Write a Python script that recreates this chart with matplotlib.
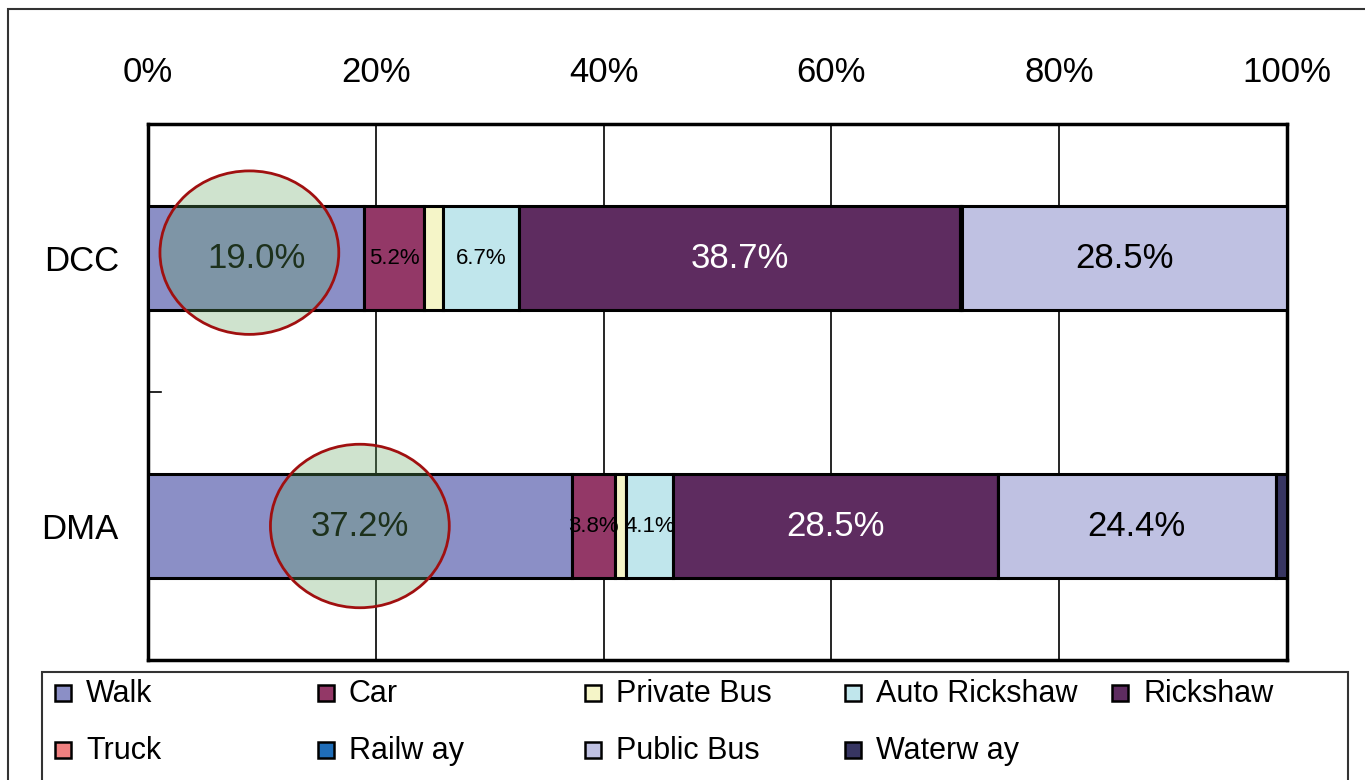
import matplotlib
matplotlib.use("Agg")
import matplotlib.pyplot as plt
from matplotlib.patches import Ellipse, Rectangle
import numpy as np

plt.rcParams['font.family'] = ['Liberation Sans', 'DejaVu Sans']

categories = ["DCC", "DMA"]
modes = ["Walk", "Car", "Private Bus", "Auto Rickshaw", "Rickshaw",
         "Truck", "Railway", "Public Bus", "Waterway"]
legend_labels = ["Walk", "Car", "Private Bus", "Auto Rickshaw", "Rickshaw",
                 "Truck", "Railw ay", "Public Bus", "Waterw ay"]
walk = [19.0, 37.2]
car = [5.2, 3.8]
private_bus = [1.7, 1.0]
auto_rickshaw = [6.7, 4.1]
rickshaw = [38.7, 28.5]
truck = [0.1, 0.0]
railway = [0.1, 0.0]
public_bus = [28.5, 24.4]
waterway = [0.0, 1.0]
series = [walk, car, private_bus, auto_rickshaw, rickshaw, truck, railway, public_bus, waterway]
labelled = [True, True, False, True, True, False, False, True, False]
xticks = [0, 20, 40, 60, 80, 100]
xtick_labels = ["0%", "20%", "40%", "60%", "80%", "100%"]

colors = ["#8B8FC6", "#933867", "#F5F5C8", "#C0E6EC", "#5E2C60",
          "#F08080", "#1F6DB8", "#BFC1E2", "#373562"]
text_colors = ["#000000", "#000000", "#000000", "#000000", "#FFFFFF",
               "#000000", "#000000", "#000000", "#000000"]

fig = plt.figure(figsize=(13.65, 7.8), dpi=100)
ax = fig.add_axes([148/1365, 1-660/780, (1287-148)/1365, (660-124)/780])

y = np.arange(len(categories))
left = np.zeros(len(categories))
for i, vals in enumerate(series):
    vals = np.array(vals)
    ax.barh(y, vals, left=left, height=0.39, color=colors[i], edgecolor="black",
            linewidth=2.2, zorder=3)
    if labelled[i]:
        for j, v in enumerate(vals):
            if v <= 0:
                continue
            fs = 25 if v >= 10 else 16
            ax.text(left[j] + v/2, y[j], f"{v:.1f}%", ha="center", va="center",
                    fontsize=fs, color=text_colors[i], zorder=4)
    left += vals

# highlight circles around walk share
for j, w in enumerate(walk):
    e = Ellipse((w/2 - 0.6*(1-j), y[j] - 0.02*(1-j)), width=15.7, height=0.61,
                facecolor=(98/255, 165/255, 95/255, 0.3), edgecolor="#A01010",
                linewidth=2, zorder=5)
    ax.add_patch(e)

ax.set_xlim(0, 100)
ax.set_ylim(1.5, -0.5)
ax.xaxis.tick_top()
ax.set_xticks(xticks)
ax.set_xticklabels(xtick_labels, fontsize=25)
ax.tick_params(axis="x", length=0, pad=25)
ax.set_yticks(y)
ax.set_yticklabels(categories, fontsize=25)
ax.tick_params(axis="y", length=0, pad=21)
for xv in xticks[1:-1]:
    ax.axvline(xv, color="black", linewidth=1.2, zorder=1)
# category separator tick
ax.plot([0, 1.1], [0.5, 0.5], color="black", linewidth=1.2, zorder=2)
for s in ax.spines.values():
    s.set_linewidth(2.5)
    s.set_color("black")

# outer frame
fig.add_artist(Rectangle((8/1365, -0.1), 1.2, 1 - 9/780 + 0.1, transform=fig.transFigure,
                         fill=False, edgecolor="#333333", linewidth=1.5))
# legend box
fig.add_artist(Rectangle((42/1365, -0.1), (1348-42)/1365, 1 - 672/780 + 0.1,
                         transform=fig.transFigure, fill=False, edgecolor="#333333",
                         linewidth=1.5))
col_x = [55, 318, 585, 845, 1112]
row_y = [693, 750]
for k, lab in enumerate(legend_labels):
    r, c = divmod(k, 5)
    mx = col_x[c]
    my = row_y[r]
    fig.add_artist(Rectangle((mx/1365, 1 - (my+8)/780), 16/1365, 16/780,
                             transform=fig.transFigure, facecolor=colors[k],
                             edgecolor="black", linewidth=1.8))
    fig.text((mx+31)/1365, 1 - (my+1)/780, lab, fontsize=22, ha="left", va="center")

fig.savefig("out.png", dpi=100)
